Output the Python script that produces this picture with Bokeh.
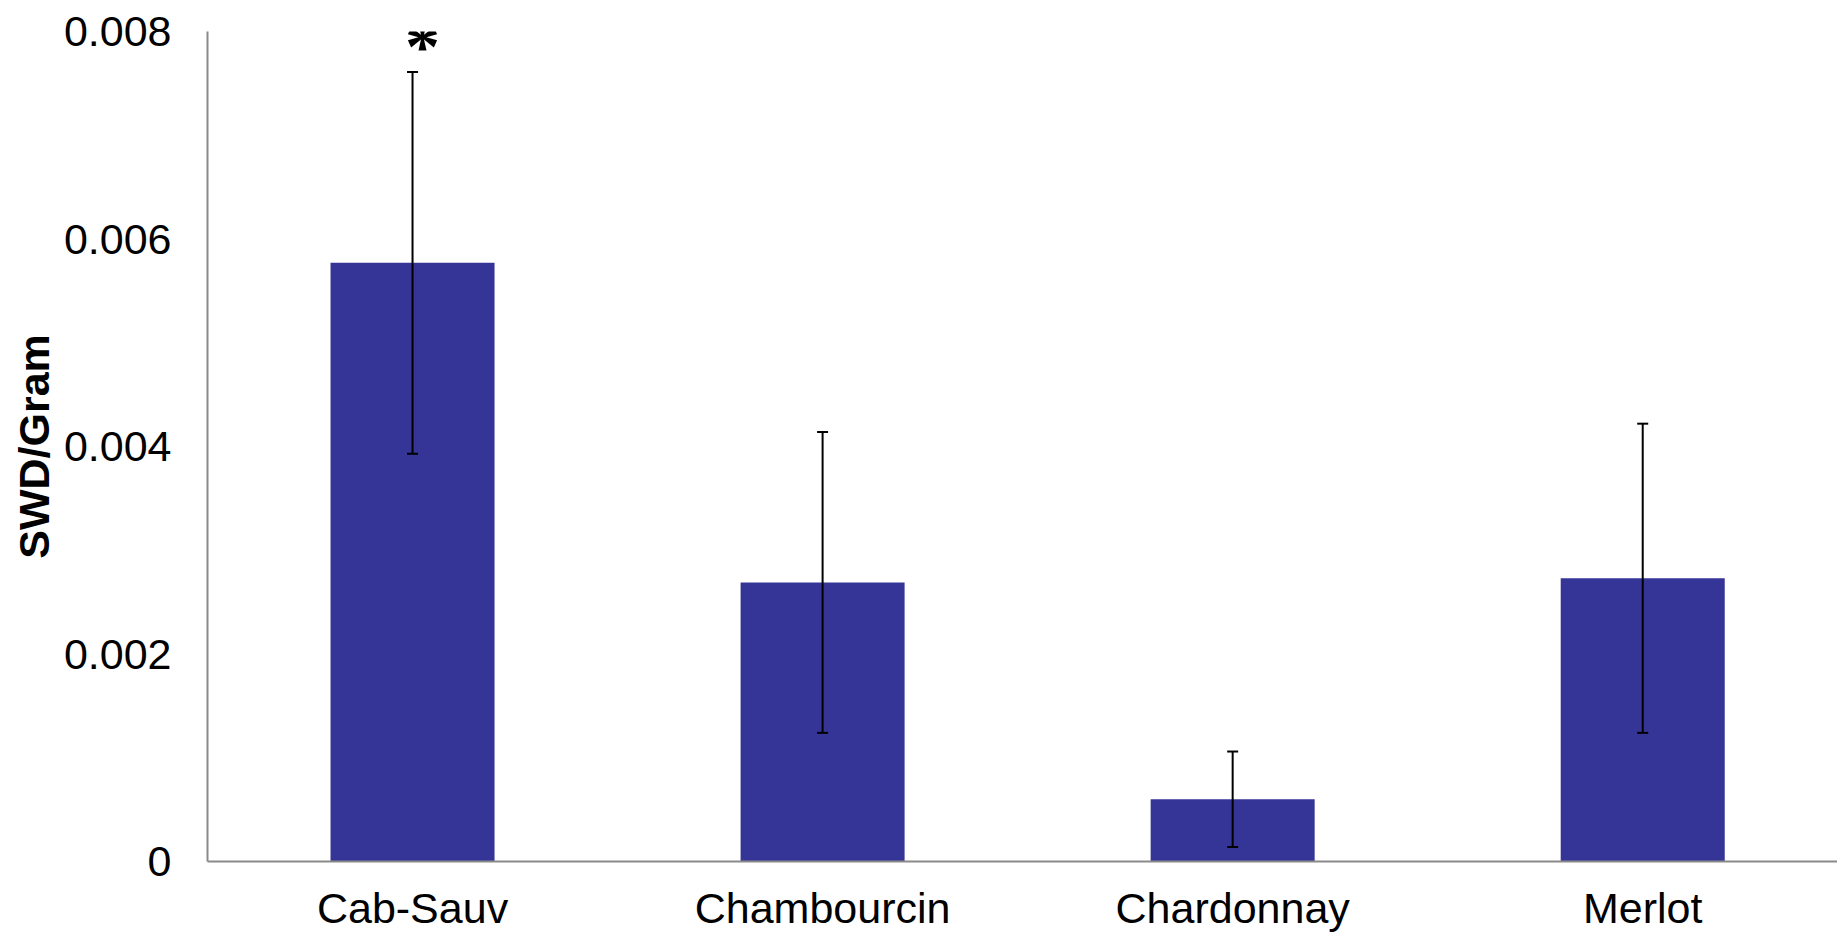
from bokeh.plotting import figure
from bokeh.models import ColumnDataSource, Range1d, FixedTicker, Whisker, TeeHead, LabelSet
from bokeh.embed import file_html
from bokeh.resources import INLINE

# ---- data ----
categories = ["Cab-Sauv", "Chambourcin", "Chardonnay", "Merlot"]
means = [0.00577, 0.00269, 0.00060, 0.00273]
errors = [0.00184, 0.00145, 0.00046, 0.00149]
significance = ["*", "", "", ""]
y_ticks = [0, 0.002, 0.004, 0.006, 0.008]
y_tick_labels = ["0", "0.002", "0.004", "0.006", "0.008"]
y_label = "SWD/Gram"

FONT = "Liberation Sans"
BAR_COLOR = "#353598"
AXIS_COLOR = "#8a8a8a"

# category slots: each category centred in a unit-wide slot
xpos = [i + 0.5 for i in range(len(categories))]
upper = [m + e for m, e in zip(means, errors)]
lower = [m - e for m, e in zip(means, errors)]
sig_y = [u for u in upper]

src = ColumnDataSource(dict(x=xpos, cat=categories, mean=means, upper=upper, lower=lower,
                            sig=significance, sig_y=sig_y))

# the original plot area runs slightly past the right edge of the image
p = figure(x_range=Range1d(0, len(categories) - 0.025),
           y_range=Range1d(0, 0.008),
           width=1837, height=934,
           output_backend="svg", toolbar_location=None,
           min_border_left=207, min_border_right=0,
           min_border_top=31, min_border_bottom=72)

p.vbar(x="x", top="mean", width=0.4, source=src, color=BAR_COLOR, line_color=None)

w = Whisker(base="x", upper="upper", lower="lower", source=src,
            line_color="black", line_width=2, level="overlay",
            upper_head=TeeHead(size=11, line_color="black", line_width=2),
            lower_head=TeeHead(size=11, line_color="black", line_width=2))
p.add_layout(w)

labels = LabelSet(x="x", y="sig_y", text="sig", source=src, x_offset=10, y_offset=2,
                  text_align="center", text_baseline="alphabetic",
                  text_font=FONT, text_font_style="bold", text_font_size="70px",
                  text_color="black", level="overlay")
p.add_layout(labels)

p.outline_line_color = None
p.xgrid.visible = False
p.ygrid.visible = False
p.background_fill_color = "white"
p.border_fill_color = "white"

# y axis
ya = p.yaxis[0]
ya.ticker = FixedTicker(ticks=y_ticks)
ya.major_label_overrides = {t: l for t, l in zip(y_ticks, y_tick_labels)}
ya.major_tick_line_color = None
ya.minor_tick_line_color = None
ya.major_tick_out = 0
ya.major_tick_in = 0
ya.major_label_standoff = 36
ya.major_label_text_font = FONT
ya.major_label_text_font_size = "43px"
ya.major_label_text_color = "black"
ya.axis_line_color = AXIS_COLOR
ya.axis_line_width = 2
ya.axis_label = y_label
ya.axis_label_text_font = FONT
ya.axis_label_text_font_style = "bold"
ya.axis_label_text_font_size = "43px"
ya.axis_label_text_color = "black"
ya.axis_label_standoff = 3

# x axis (categorical labels on the slot centres)
xa = p.xaxis[0]
xa.ticker = FixedTicker(ticks=xpos)
xa.major_label_overrides = {x: c for x, c in zip(xpos, categories)}
xa.major_tick_line_color = None
xa.minor_tick_line_color = None
xa.major_tick_out = 0
xa.major_tick_in = 0
xa.major_label_standoff = 22
xa.major_label_text_font = FONT
xa.major_label_text_font_size = "43px"
xa.major_label_text_color = "black"
xa.axis_line_color = AXIS_COLOR
xa.axis_line_width = 2

open("out.html", "w").write(file_html(p, INLINE))
